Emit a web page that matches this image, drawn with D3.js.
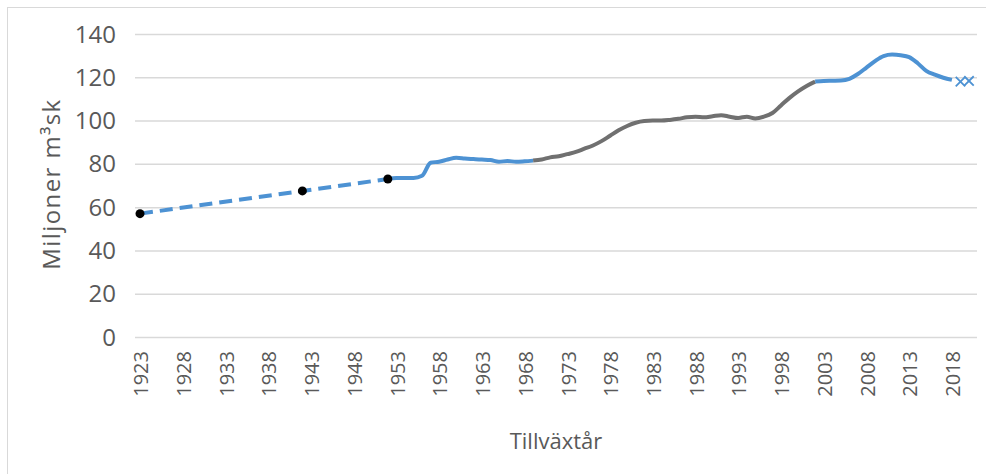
<!DOCTYPE html>
<html lang="sv">
<head>
  <meta charset="UTF-8">
  <title>Tillväxt</title>
  <script src="https://d3js.org/d3.v7.min.js"></script>
  <style>
    body { margin: 0; background: #fff; }
    text { font-family: "Open Sans", "Liberation Sans", sans-serif; fill: #595959; }
  </style>
</head>
<body>
  <svg id="chart" width="986" height="474"></svg>
  <script>
    // skattade punkter (streckad linje)
    const sketchYears = [1923, 1942, 1952];
    const sketchValues = [57, 67.5, 73];

    // blå linje 1952-1969
    const earlyYears = d3.range(1952, 1970);
    const earlyValues = [73, 73.5, 73.5, 73.5, 74.5, 80.5, 81, 82, 82.8, 82.5,
      82.2, 82, 81.8, 81, 81.3, 81, 81.2, 81.5];

    // grå linje 1969-2002
    const midYears = d3.range(1969, 2003);
    const midValues = [81.5, 82, 83, 83.5, 84.5, 85.5, 87, 88.5, 90.5, 93,
      95.5, 97.5, 99, 99.8, 100, 100, 100.3, 100.8, 101.5, 101.8,
      101.5, 102, 102.5, 101.8, 101.2, 101.8, 101, 101.8, 103.5, 107,
      110.5, 113.5, 116, 118];

    // blå linje 2002-2018
    const lateYears = d3.range(2002, 2019);
    const lateValues = [118, 118.3, 118.4, 118.5, 119.3, 121.5, 124.5, 127.5, 129.8, 130.5,
      130.2, 129.3, 126.5, 123, 121.2, 119.8, 118.8];

    // prognos (kryss)
    const crossYears = [2019, 2020];
    const crossValues = [118, 118.3];

    const yTicks = [0, 20, 40, 60, 80, 100, 120, 140];
    const xTicks = d3.range(1923, 2019, 5);

    const blue = "#4d92d3";
    const grey = "#707070";

    const svg = d3.select("#chart");

    // ram
    svg.append("rect")
      .attr("x", 7.5).attr("y", 7.5)
      .attr("width", 990).attr("height", 480)
      .attr("fill", "none").attr("stroke", "#d9d9d9");

    const x = d3.scaleLinear().domain([1923, 2020]).range([140, 969]);
    const y = d3.scaleLinear().domain([0, 140]).range([337, 34]);
    const plotLeft = 135, plotRight = 977;

    // rutnät
    svg.append("g").selectAll("line")
      .data(yTicks)
      .join("line")
      .attr("x1", plotLeft).attr("x2", plotRight)
      .attr("y1", d => y(d) + 0.5).attr("y2", d => y(d) + 0.5)
      .attr("stroke", "#d9d9d9").attr("stroke-width", 1.5);

    svg.append("g").selectAll("text")
      .data(yTicks)
      .join("text")
      .attr("x", 116)
      .attr("y", d => y(d))
      .attr("dy", "0.36em")
      .attr("text-anchor", "end")
      .style("font-size", "24px")
      .text(d => d);

    svg.append("g").selectAll("text")
      .data(xTicks)
      .join("text")
      .attr("transform", d => `translate(${x(d) + 1},351) rotate(-90)`)
      .attr("dy", "0.36em")
      .attr("text-anchor", "end")
      .style("font-size", "20px")
      .text(d => d);

    svg.append("text")
      .attr("transform", "translate(60,184) rotate(-90)")
      .attr("text-anchor", "middle")
      .style("font-size", "24px")
      .style("letter-spacing", "1.4px")
      .text("Miljoner m³sk");

    svg.append("text")
      .attr("x", 556).attr("y", 449)
      .attr("text-anchor", "middle")
      .style("font-size", "22px")
      .text("Tillväxtår");

    const line = d3.line()
      .x(d => x(d[0]))
      .y(d => y(d[1]))
      .curve(d3.curveMonotoneX);

    const zip = (a, b) => a.map((v, i) => [v, b[i]]);

    svg.append("path")
      .datum(zip(sketchYears, sketchValues))
      .attr("d", d3.line().x(d => x(d[0])).y(d => y(d[1])))
      .attr("fill", "none").attr("stroke", blue)
      .attr("stroke-width", 4)
      .attr("stroke-dasharray", "13,7");

    svg.append("path")
      .datum(zip(earlyYears, earlyValues))
      .attr("d", line)
      .attr("fill", "none").attr("stroke", blue)
      .attr("stroke-width", 4).attr("stroke-linejoin", "round");

    svg.append("path")
      .datum(zip(midYears, midValues))
      .attr("d", line)
      .attr("fill", "none").attr("stroke", grey)
      .attr("stroke-width", 4).attr("stroke-linejoin", "round");

    svg.append("path")
      .datum(zip(lateYears, lateValues))
      .attr("d", line)
      .attr("fill", "none").attr("stroke", blue)
      .attr("stroke-width", 4).attr("stroke-linejoin", "round");

    svg.append("g").selectAll("circle")
      .data(zip(sketchYears, sketchValues))
      .join("circle")
      .attr("cx", d => x(d[0]))
      .attr("cy", d => y(d[1]))
      .attr("r", 4.5)
      .attr("fill", "#000");

    svg.append("g").selectAll("path")
      .data(zip(crossYears, crossValues))
      .join("path")
      .attr("d", d3.symbol(d3.symbolX, 60))
      .attr("transform", d => `translate(${x(d[0])},${y(d[1])})`)
      .attr("fill", "none").attr("stroke", blue).attr("stroke-width", 1.8);
  </script>
</body>
</html>
